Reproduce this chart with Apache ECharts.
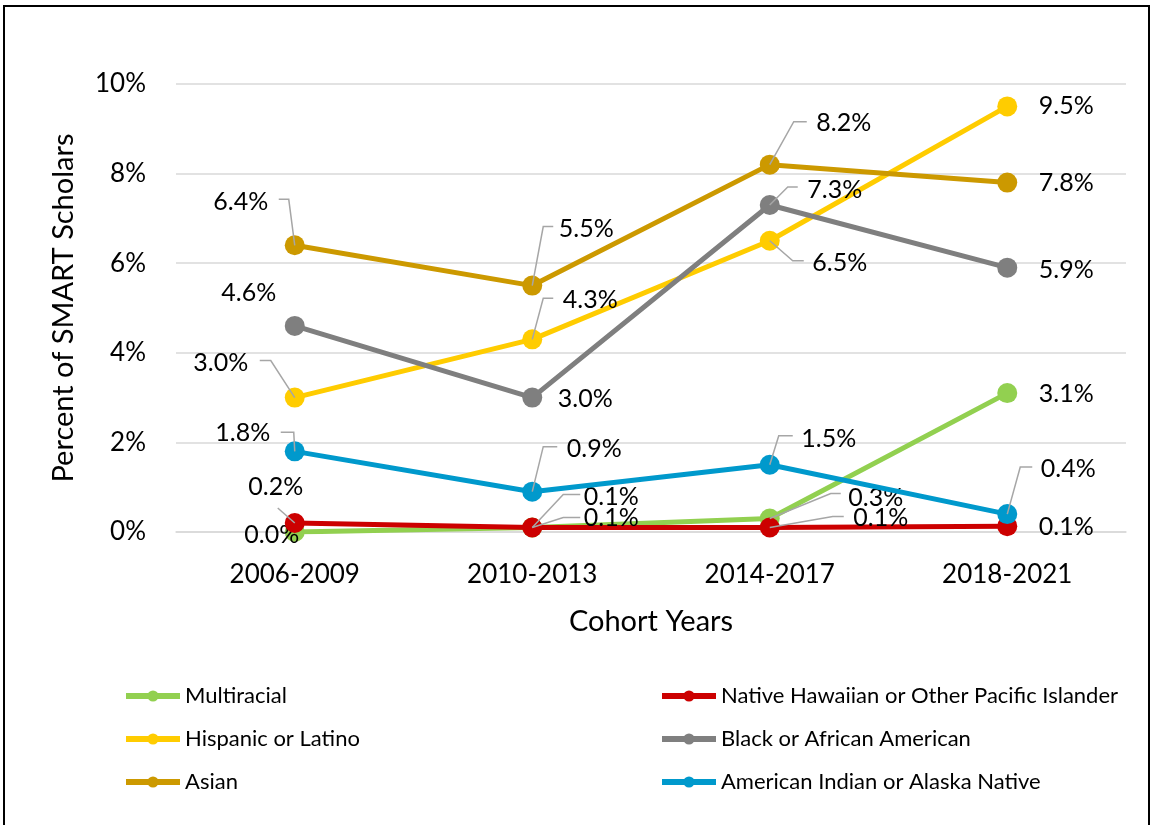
<!DOCTYPE html>
<html>
<head>
<meta charset="utf-8">
<script src="https://cdn.jsdelivr.net/npm/echarts@6/dist/echarts.min.js"></script>
<style>
  html, body { margin: 0; padding: 0; background: #fff; }
  #chart { width: 1156px; height: 825px; }
</style>
</head>
<body>
<div id="chart"></div>
<script>
// ---- Data ----
const categories = ['2006-2009', '2010-2013', '2014-2017', '2018-2021'];
const seriesNames = [
  'Multiracial',
  'Native Hawaiian or Other Pacific Islander',
  'Hispanic or Latino',
  'Black or African American',
  'Asian',
  'American Indian or Alaska Native'
];
const multiracial = [0.0, 0.1, 0.3, 3.1];
const nativeHawaiian = [0.2, 0.1, 0.1, 0.13];
const hispanic = [3.0, 4.3, 6.5, 9.5];
const black = [4.6, 3.0, 7.3, 5.9];
const asian = [6.4, 5.5, 8.2, 7.8];
const americanIndian = [1.8, 0.9, 1.5, 0.4];
const yTicks = { min: 0, max: 10, interval: 2 };

// ---- Styling ----
const colors = ['#92D050', '#CC0000', '#FFCC00', '#7F7F7F', '#CC9900', '#0099CC'];
const FONT = 'Lato';
// label placement: [dx, dy] of label centre from point; leader: [[cornerDx, cornerDy], [endDx, endDy]] or none
const labelPlacement = [
  // Multiracial
  [{o: [-23, 3]}, {o: [79, -31], l: [[31, -33], [48, -33]]}, {o: [106, -21], l: [[61, -25], [71, -25]]}, {o: [59, 1]}],
  // Native Hawaiian
  [{o: [-19, -36], l: [[-17, -15], [-17, -15]]}, {o: [79, -10], l: [[31, -10], [48, -10]]}, {o: [111, -10], l: [[63, -11], [74, -11]]}, {o: [59, 1]}],
  // Hispanic
  [{o: [-74, -35], l: [[-24, -37], [-35, -37]]}, {o: [58, -39], l: [[11, -41], [21, -41]]}, {o: [70, 22], l: [[23, 20], [34, 20]]}, {o: [59, 0]}],
  // Black
  [{o: [-46, -33]}, {o: [53, 1]}, {o: [65, -15], l: [[18, -18], [28, -18]]}, {o: [59, 2]}],
  // Asian
  [{o: [-54, -43], l: [[-6, -46], [-16, -46]]}, {o: [54, -57], l: [[11, -59], [21, -59]]}, {o: [74, -42], l: [[24, -43], [37, -43]]}, {o: [59, 0]}],
  // American Indian
  [{o: [-52, -18], l: [[-1, -19], [-14, -19]]}, {o: [62, -43], l: [[11, -45], [25, -45]]}, {o: [59, -26], l: [[9, -29], [23, -29]]}, {o: [61, -45], l: [[13, -47], [25, -47]]}]
];

const allValues = [multiracial, nativeHawaiian, hispanic, black, asian, americanIndian];

const lineSeries = allValues.map((vals, si) => ({
  name: seriesNames[si],
  type: 'line',
  z: 2 + si * 0.01,
  symbol: 'circle',
  symbolSize: 20,
  lineStyle: { width: 5, color: colors[si] },
  itemStyle: { color: colors[si] },
  label: {
    show: true,
    position: 'inside',
    fontFamily: FONT,
    fontSize: 25,
    color: '#000',
    align: 'center',
    verticalAlign: 'middle',
    formatter: p => p.value.toFixed(1) + '%'
  },
  emphasis: { disabled: true },
  data: vals.map((v, i) => ({ value: v, label: { offset: labelPlacement[si][i].o } }))
}));

// leader lines built from the data arrays
const leaderData = [];
const leaderShapes = [];
allValues.forEach((vals, si) => {
  vals.forEach((v, i) => {
    const pl = labelPlacement[si][i];
    if (pl.l) {
      leaderData.push([i, v]);
      leaderShapes.push(pl.l);
    }
  });
});

const leaderSeries = {
  type: 'custom',
  z: 5,
  silent: true,
  data: leaderData,
  renderItem: function (params, api) {
    const p = api.coord([api.value(0), api.value(1)]);
    const l = leaderShapes[params.dataIndex];
    return {
      type: 'polyline',
      shape: { points: [p, [p[0] + l[0][0], p[1] + l[0][1]], [p[0] + l[1][0], p[1] + l[1][1]]] },
      style: { stroke: '#A6A6A6', lineWidth: 1.5, fill: null }
    };
  }
};

const legendCommon = {
  orient: 'vertical',
  top: 680,
  itemWidth: 54,
  itemHeight: 14,
  itemGap: 21,
  lineStyle: { width: 6 },
  textStyle: { fontFamily: FONT, fontSize: 22, color: '#000', lineHeight: 22 },
  selectedMode: false
};

const chart = echarts.init(document.getElementById('chart'), null, { renderer: 'canvas' });
chart.setOption({
  animation: false,
  backgroundColor: '#fff',
  color: colors,
  graphic: [{
    type: 'rect',
    z: 100,
    shape: { x: 4, y: 6, width: 1145, height: 830 },
    style: { fill: 'none', stroke: '#000', lineWidth: 2 }
  }],
  grid: { left: 176, right: 30, top: 84, bottom: 293 },
  legend: [
    Object.assign({ left: 118, data: [seriesNames[0], seriesNames[2], seriesNames[4]] }, legendCommon),
    Object.assign({ left: 654, data: [seriesNames[1], seriesNames[3], seriesNames[5]] }, legendCommon)
  ],
  xAxis: {
    type: 'category',
    data: categories,
    boundaryGap: true,
    axisLine: { lineStyle: { color: '#D9D9D9', width: 1.5 } },
    axisTick: { show: false },
    axisLabel: { margin: 30, fontFamily: FONT, fontSize: 26, color: '#000' },
    name: 'Cohort Years',
    nameLocation: 'middle',
    nameGap: 75,
    nameTextStyle: { fontFamily: FONT, fontSize: 29, color: '#000' }
  },
  yAxis: {
    type: 'value',
    min: yTicks.min,
    max: yTicks.max,
    interval: yTicks.interval,
    axisLine: { show: false },
    axisTick: { show: false },
    axisLabel: { margin: 30, fontFamily: FONT, fontSize: 26, color: '#000', formatter: '{value}%' },
    splitLine: { lineStyle: { color: '#D9D9D9', width: 1.5 } },
    name: 'Percent of SMART Scholars',
    nameLocation: 'middle',
    nameGap: 98,
    nameRotate: 90,
    nameTextStyle: { fontFamily: FONT, fontSize: 29, color: '#000' }
  },
  series: lineSeries.concat([leaderSeries])
});
</script>
</body>
</html>
